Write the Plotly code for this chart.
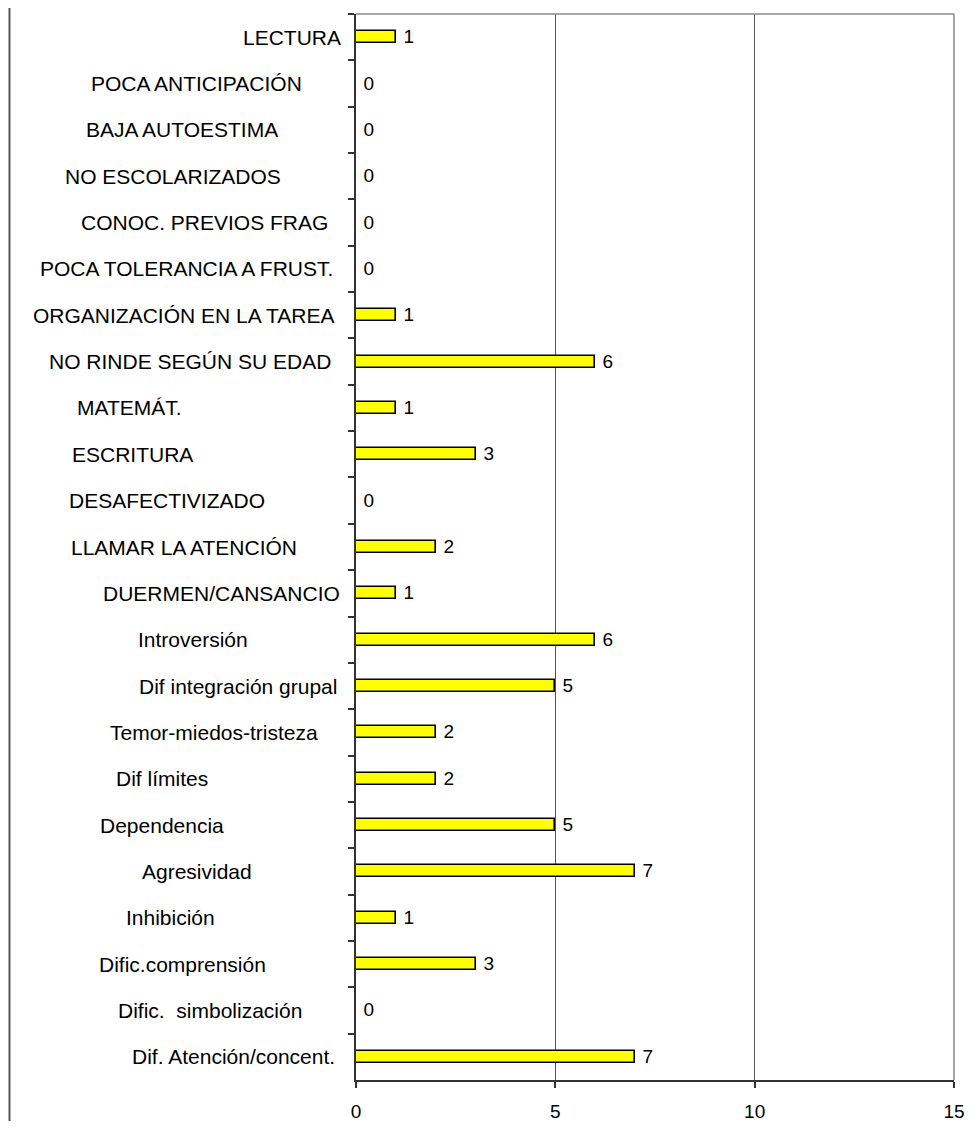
import plotly.graph_objects as go

# ---- data (top to bottom) ----
categories = [
    "LECTURA", "POCA ANTICIPACIÓN", "BAJA AUTOESTIMA", "NO ESCOLARIZADOS",
    "CONOC. PREVIOS FRAG", "POCA TOLERANCIA A FRUST.", "ORGANIZACIÓN EN LA TAREA",
    "NO RINDE SEGÚN SU EDAD", "MATEMÁT.", "ESCRITURA", "DESAFECTIVIZADO",
    "LLAMAR LA ATENCIÓN", "DUERMEN/CANSANCIO", "Introversión",
    "Dif integración grupal", "Temor-miedos-tristeza", "Dif límites",
    "Dependencia", "Agresividad", "Inhibición", "Dific.comprensión",
    "Dific.\u00a0 simbolización", "Dif. Atención/concent.",
]
values = [1, 0, 0, 0, 0, 0, 1, 6, 1, 3, 0, 2, 1, 6, 5, 2, 2, 5, 7, 1, 3, 0, 7]
x_ticks = [0, 5, 10, 15]

# ---- layout settings ----
PAGE_OFF = 8                      # default body margin of the html page
W, H = 963, 1113
L, T = 356 - PAGE_OFF, 14 - PAGE_OFF
plot_w, plot_h = 598, 1066
R = W - L - plot_w
B = H - T - plot_h
# horizontal centre (page pixels) of each category label, as laid out in the reference
label_center_px = [292, 196, 182, 173, 204, 186, 183, 190, 130, 132, 167, 184,
                   221, 193, 238, 214, 162, 162, 197, 170, 182, 210, 233]

FONT = "Liberation Sans, Arial, sans-serif"

fig = go.Figure()
fig.add_trace(go.Bar(
    y=categories, x=values, orientation="h",
    width=0.26,
    marker=dict(color="#FFFF00", line=dict(color="#000000", width=1.6)),
    text=values, texttemplate="\u00a0%{x}", textposition="outside",
    constraintext="none",
    outsidetextfont=dict(family=FONT, size=19, color="#000000"),
    textfont=dict(family=FONT, size=19, color="#000000"),
    cliponaxis=False, hoverinfo="skip",
))

annotations = []
for cat, cx in zip(categories, label_center_px):
    annotations.append(dict(
        x=(cx - PAGE_OFF - L) / plot_w, xref="paper", y=cat, yref="y",
        text=cat, showarrow=False, xanchor="center", yanchor="middle",
        font=dict(family=FONT, size=21, color="#000000"),
    ))

shapes = [
    # top and right plot border (grey)
    dict(type="line", xref="paper", yref="paper", x0=0, x1=1, y0=1, y1=1,
         line=dict(color="#888888", width=1.5)),
    dict(type="line", xref="paper", yref="paper", x0=1, x1=1, y0=0, y1=1,
         line=dict(color="#888888", width=1.5)),
    # left chart-area border
    dict(type="line", xref="paper", yref="paper",
         x0=(9 - PAGE_OFF - L) / plot_w + 0.0008, x1=(9 - PAGE_OFF - L) / plot_w + 0.0008,
         y0=-B / plot_h, y1=1 + T / plot_h,
         line=dict(color="#555555", width=2)),
]

fig.update_layout(
    width=W, height=H,
    margin=dict(l=L, r=R, t=T, b=B, autoexpand=False),
    paper_bgcolor="#FFFFFF", plot_bgcolor="#FFFFFF",
    showlegend=False, bargap=0,
    font=dict(family=FONT, size=19, color="#000000"),
    annotations=annotations, shapes=shapes,
    xaxis=dict(
        range=[0, 15], tickvals=x_ticks, ticktext=[str(v) for v in x_ticks],
        showgrid=True, gridcolor="#555555", gridwidth=1,
        showline=True, linecolor="#333333", linewidth=1.5,
        ticks="outside", ticklen=6, tickcolor="#333333", tickwidth=1.5,
        ticklabelstandoff=7,
        tickfont=dict(family=FONT, size=19, color="#000000"),
        zeroline=False, fixedrange=True,
    ),
    yaxis=dict(
        type="category", categoryorder="array", categoryarray=categories,
        range=[len(categories) - 0.5, -0.5],
        showticklabels=False, showgrid=False,
        showline=True, linecolor="#333333", linewidth=1.5,
        ticks="outside", tickson="boundaries", ticklen=6,
        tickcolor="#333333", tickwidth=1.5, zeroline=False, fixedrange=True,
    ),
)

fig.write_html("out.html")
